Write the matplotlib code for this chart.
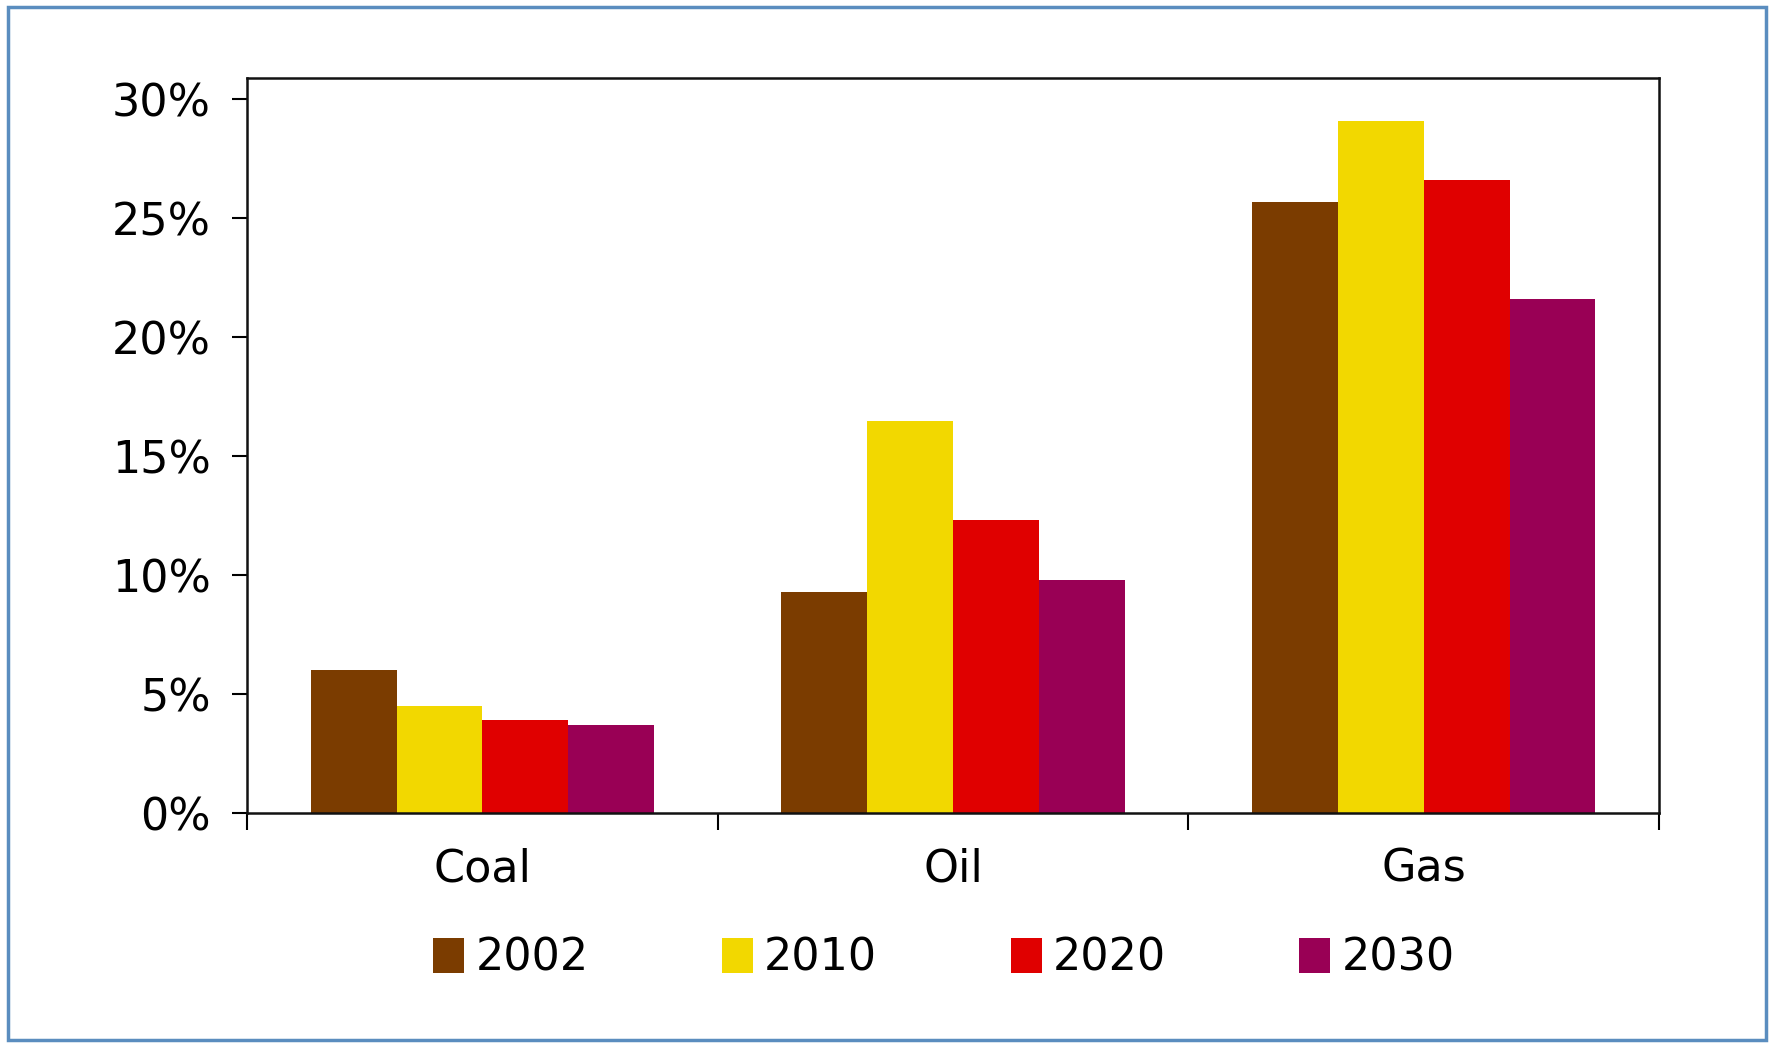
import matplotlib
matplotlib.use("Agg")
import matplotlib.pyplot as plt
import numpy as np
from matplotlib.patches import Patch, Rectangle
from matplotlib.ticker import FuncFormatter

categories = ["Coal", "Oil", "Gas"]
years = ["2002", "2010", "2020", "2030"]
v2002 = [6.0, 9.3, 25.7]
v2010 = [4.5, 16.5, 29.1]
v2020 = [3.9, 12.3, 26.6]
v2030 = [3.7, 9.8, 21.6]
yticks = [0, 5, 10, 15, 20, 25, 30]

colors = ["#7B3C00", "#F2D800", "#E00000", "#990055"]
series = [v2002, v2010, v2020, v2030]

plt.rcParams['font.family'] = ['DejaVu Sans']
fig = plt.figure(figsize=(17.71, 10.45), dpi=100)
ax = fig.add_axes([0.1395, 0.222, 0.7973, 0.7034])

x = np.arange(len(categories))
w = 0.1824
for i, (vals, c) in enumerate(zip(series, colors)):
    ax.bar(x + (i - 1.5) * w, vals, width=w, color=c, label=years[i], linewidth=0)

ax.set_xlim(-0.5, 2.5)
ax.set_ylim(0, 30.9)
ax.set_yticks(yticks)
ax.yaxis.set_major_formatter(FuncFormatter(lambda v, p: f"{v:.0f}%"))
ax.set_xticks([-0.5, 0.5, 1.5, 2.5])
ax.set_xticklabels([])
ax.set_xticks(x, minor=True)
ax.set_xticklabels(categories, minor=True)
ax.tick_params(axis='x', which='minor', length=0, pad=25, labelsize=32)
ax.tick_params(axis='x', which='major', length=12, width=1.5, direction='out')
ax.tick_params(axis='y', length=11, width=1.5, pad=15, labelsize=32)
for s in ax.spines.values():
    s.set_linewidth(1.8)
    s.set_color('#111111')

handles = [Patch(facecolor=c, edgecolor='none') for c in colors]
fig.legend(handles, years, loc='center', bbox_to_anchor=(0.533, 0.083), ncol=4,
           frameon=False, fontsize=32, handlelength=0.7, handleheight=0.85,
           handletextpad=0.25, columnspacing=3.0)

border = Rectangle((0.0045, 0.005), 0.9925, 0.988, transform=fig.transFigure,
                   fill=False, edgecolor='#5A8DBF', linewidth=2.5)
fig.patches.append(border)

fig.savefig("out.png", dpi=100)
